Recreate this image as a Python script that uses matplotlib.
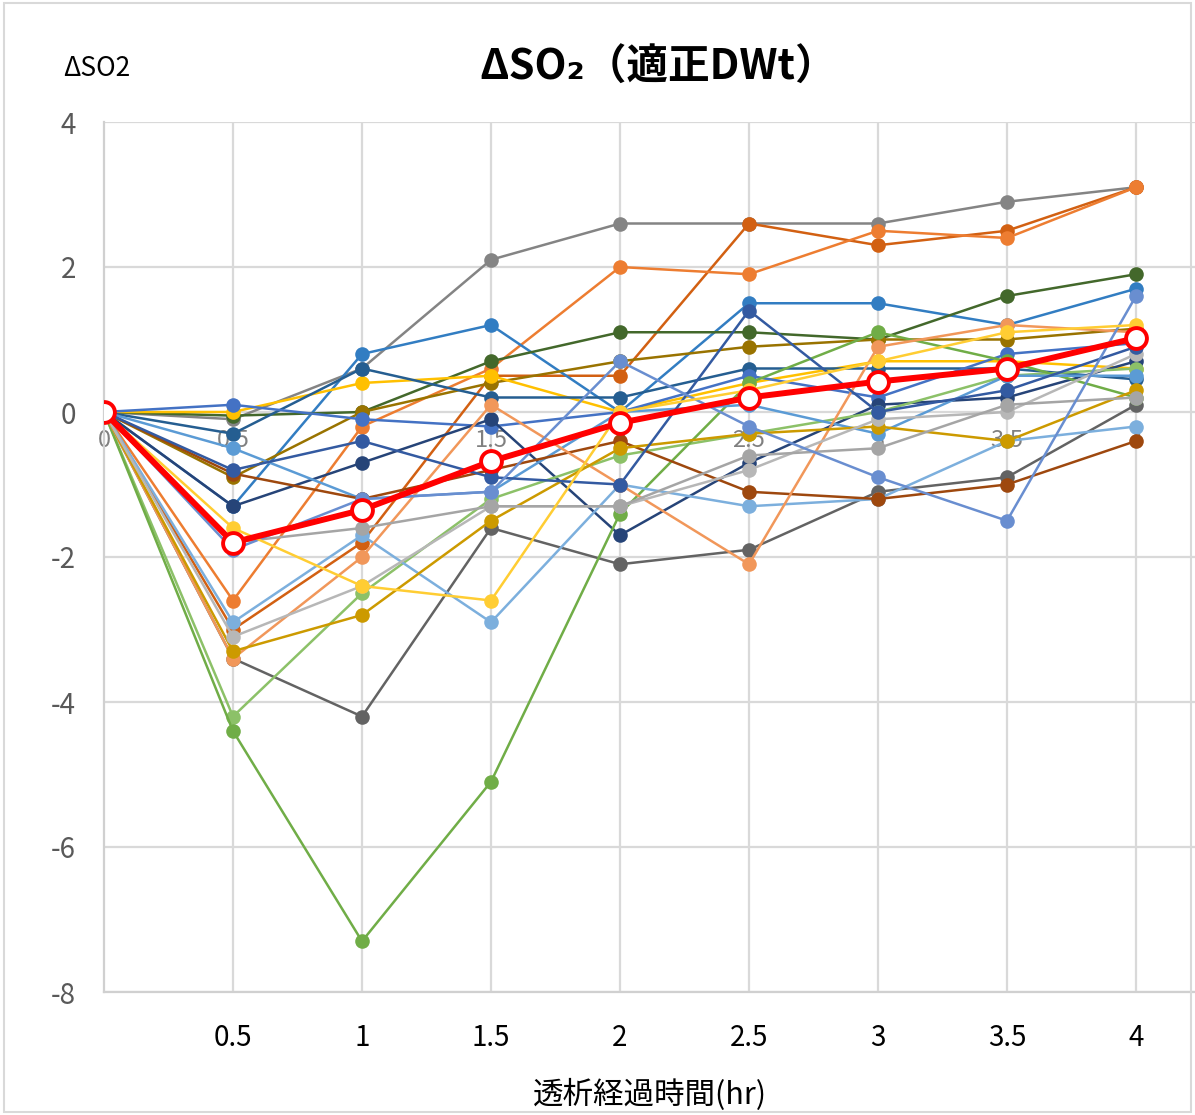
import matplotlib.pyplot as plt
import numpy as np

plt.rcParams['font.family'] = ['Noto Sans CJK JP', 'DejaVu Sans']
plt.rcParams['axes.unicode_minus'] = False

# time points (hr)
hours = [0, 0.5, 1, 1.5, 2, 2.5, 3, 3.5, 4]
hour_labels = ["0", "0.5", "1", "1.5", "2", "2.5", "3", "3.5", "4"]

# individual patients
s01 = [0, -0.1, 0.6, 2.1, 2.6, 2.6, 2.6, 2.9, 3.1]
s02 = [0, -3.0, -1.8, 0.5, 0.5, 2.6, 2.3, 2.5, 3.1]
s03 = [0, -2.6, -0.2, 0.6, 2.0, 1.9, 2.5, 2.4, 3.1]
s04 = [0, -1.3, 0.8, 1.2, 0.0, 1.5, 1.5, 1.2, 1.7]
s05 = [0, -0.05, 0.0, 0.7, 1.1, 1.1, 1.0, 1.6, 1.9]
s06 = [0, -0.9, 0.0, 0.4, 0.7, 0.9, 1.0, 1.0, 1.15]
s07 = [0, 0.0, 0.4, 0.5, 0.0, 0.4, 0.7, 0.7, 0.6]
s08 = [0, -0.3, 0.6, 0.2, 0.2, 0.6, 0.6, 0.6, 0.45]
s09 = [0, 0.1, -0.1, -0.2, 0.0, 0.5, 0.2, 0.8, 0.95]
s10 = [0, -1.3, -0.7, -0.1, -1.7, -0.7, 0.1, 0.2, 0.7]
s11 = [0, -3.4, -4.2, -1.6, -2.1, -1.9, -1.1, -0.9, 0.1]
s12 = [0, -4.2, -2.5, -1.2, -0.6, -0.3, 0.0, 0.5, 0.6]
s13 = [0, -4.4, -7.3, -5.1, -1.4, 0.4, 1.1, 0.7, 0.2]
s14 = [0, -0.5, -1.2, -1.1, 0.0, 0.1, -0.3, 0.5, 0.5]
s15 = [0, -2.9, -1.7, -2.9, -1.0, -1.3, -1.2, -0.4, -0.2]
s16 = [0, -0.85, -1.2, -0.8, -0.4, -1.1, -1.2, -1.0, -0.4]
s17 = [0, -3.4, -2.0, 0.1, -1.0, -2.1, 0.9, 1.2, 1.1]
s18 = [0, -3.3, -2.8, -1.5, -0.5, -0.3, -0.2, -0.4, 0.3]
s19 = [0, -3.1, -2.4, -1.3, -1.3, -0.8, -0.1, 0.0, 0.8]
s20 = [0, -1.8, -1.6, -1.3, -1.3, -0.6, -0.5, 0.1, 0.2]
s21 = [0, -0.8, -0.4, -0.9, -1.0, 1.4, 0.0, 0.3, 0.9]
s22 = [0, -1.9, -1.2, -1.1, 0.7, -0.2, -0.9, -1.5, 1.6]
s23 = [0, -1.6, -2.4, -2.6, 0.0, 0.3, 0.7, 1.1, 1.2]
mean_vals = [0, -1.8, -1.35, -0.68, -0.15, 0.2, 0.42, 0.6, 1.02]

series = [
    ("#848484", s01), ("#D26012", s02), ("#ED7D31", s03), ("#327DC2", s04),
    ("#43682B", s05), ("#997300", s06), ("#FFC000", s07), ("#255E91", s08),
    ("#4472C4", s09), ("#264478", s10), ("#636363", s11), ("#8CC168", s12),
    ("#70AD47", s13), ("#5B9BD5", s14), ("#7CAFDD", s15), ("#9E480E", s16),
    ("#F1975A", s17), ("#CC9A00", s18), ("#B7B7B7", s19), ("#A5A5A5", s20),
    ("#335AA1", s21), ("#698ED0", s22), ("#FFCD33", s23),
]

fig = plt.figure(figsize=(11.95, 11.15), dpi=100)
ax = fig.add_axes([104 / 1195, 1 - 992 / 1115, (1195 - 104) / 1195, (992 - 122) / 1115])

for color, vals in series:
    ax.plot(hours, vals, color=color, lw=1.8, marker="o", ms=10.5,
            markeredgewidth=0, zorder=3)

ax.plot(hours, mean_vals, color="#FF0000", lw=4.3, marker="o", ms=15,
        markerfacecolor="white", markeredgecolor="#FF0000", markeredgewidth=2.8,
        zorder=5)

ax.set_xlim(0, (1195 - 104) / 129 * 0.5)
ax.set_ylim(-8, 4)
ax.set_yticks([4, 2, 0, -2, -4, -6, -8])
ax.set_xticks(hours[1:])
ax.set_xticklabels(hour_labels[1:], fontsize=20, color="black")
ax.tick_params(axis="x", length=0, pad=22)
ax.tick_params(axis="y", length=0, pad=20, labelsize=20, labelcolor="#595959")

ax.grid(True, color="#D9D9D9", lw=1.6, zorder=0)
ax.set_axisbelow(True)
for side in ["top", "right"]:
    ax.spines[side].set_visible(False)
for side in ["left", "bottom"]:
    ax.spines[side].set_color("#D0D0D0")
    ax.spines[side].set_linewidth(1.6)

# category labels on the zero line
for h, lab in zip(hours, hour_labels):
    ax.annotate(lab, (h, 0), xytext=(0, -12), textcoords="offset points",
                ha="center", va="top", fontsize=17, color="#808080", zorder=2)

fig.text(658 / 1195, 1 - 68 / 1115, "ΔSO₂（適正DWt）", ha="center", va="center",
         fontsize=30, fontweight="bold")
fig.text(97 / 1195, 1 - 68 / 1115, "ΔSO2", ha="center", va="center", fontsize=19)
fig.text(650 / 1195, 1 - 1095 / 1115, "透析経過時間(hr)", ha="center", va="center",
         fontsize=22)

border = plt.Rectangle((0.003, 0.003), 0.994, 0.994, transform=fig.transFigure,
                       fill=False, edgecolor="#D9D9D9", lw=1.5)
fig.patches.append(border)

fig.savefig("out.png", dpi=100)
